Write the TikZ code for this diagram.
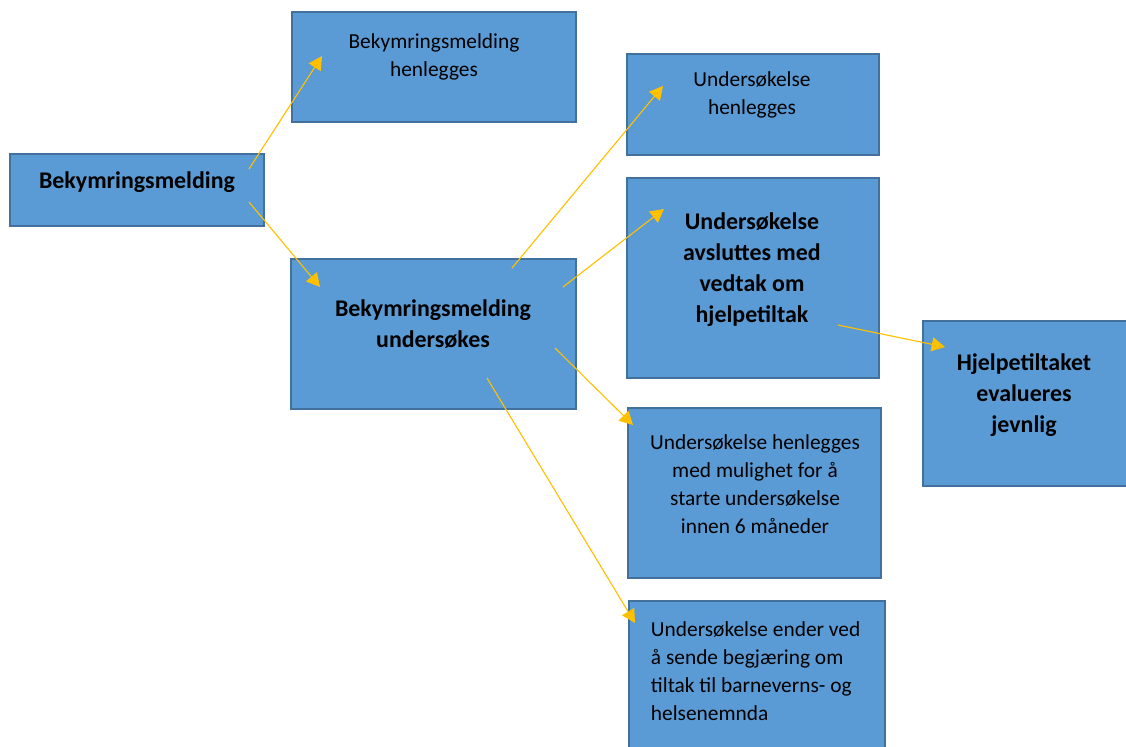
\documentclass[tikz,border=0pt]{standalone}
\usepackage{fontspec}
\setmainfont{Carlito}
\usetikzlibrary{arrows.meta}
\definecolor{boxblue}{HTML}{5B9BD5}
\definecolor{boxedge}{HTML}{41719C}
\definecolor{arrgold}{HTML}{FFC000}
\tikzset{>={Triangle[length=9.5pt, width=10pt]}}

\begin{document}
\begin{tikzpicture}[x=0.025cm, y=-0.025cm,
    box/.style={rectangle, draw=boxedge, fill=boxblue, line width=1.4pt, inner sep=0pt},
    txt/.style={align=center, font=\fontsize{15.2}{19.85}\selectfont},
    btxt/.style={align=center, font=\fontsize{17}{22}\selectfont\bfseries},
    arr/.style={draw=arrgold, line width=0.8pt, ->, arrgold}]
    \useasboundingbox (0,0) rectangle (1126,746);

    % boxes
    \node[box, minimum width=6.35cm, minimum height=1.8cm] (melding) at (137,190) {};
    \node[box, minimum width=7.1cm, minimum height=2.75cm] (henlegges) at (434,67) {};
    \node[box, minimum width=7.125cm, minimum height=3.75cm] (undersokes) at (433.5,334) {};
    \node[box, minimum width=6.3cm, minimum height=2.525cm] (ushenlegges) at (753,104.5) {};
    \node[box, minimum width=6.3cm, minimum height=5cm] (vedtak) at (753,278) {};
    \node[box, minimum width=5.425cm, minimum height=4.125cm] (evalueres) at (1031.5,403.5) {};
    \node[box, minimum width=6.325cm, minimum height=4.25cm] (mulighet) at (754.5,493) {};
    \node[box, minimum width=6.4cm, minimum height=4.225cm] (begjaering) at (757,685.5) {};

    % texts
    \node[btxt] (tmelding) at (137,182) {Bekymringsmelding};
    \node[txt] (thenlegges) at (434,57) {Bekymringsmelding\\henlegges};
    \node[btxt] (tundersokes) at (433,324) {Bekymringsmelding\\undersøkes};
    \node[txt] (tushenlegges) at (752,95) {Undersøkelse\\henlegges};
    \node[btxt] (tvedtak) at (752,270) {Undersøkelse\\avsluttes med\\vedtak om\\hjelpetiltak};
    \node[btxt] (tevalueres) at (1024,395) {Hjelpetiltaket\\evalueres\\jevnlig};
    \node[txt] (tmulighet) at (755,484) {Undersøkelse henlegges\\med mulighet for å\\starte undersøkelse\\innen 6 måneder};
    \node[txt, align=left, anchor=west] (tbegjaering) at (646,671) {Undersøkelse ender ved\\å sende begjæring om\\tiltak til barneverns- og\\helsenemnda};

    % arrow ends
    \coordinate (s1) at (249,169); \coordinate (e1) at (322,56);
    \coordinate (s2) at (249,202); \coordinate (e2) at (320,287);
    \coordinate (s3) at (512,268); \coordinate (e3) at (663,86);
    \coordinate (s4) at (563,287); \coordinate (e4) at (664,209);
    \coordinate (s5) at (838,325); \coordinate (e5) at (945,347);
    \coordinate (s6) at (555,348); \coordinate (e6) at (633,425);
    \coordinate (s7) at (487,378); \coordinate (e7) at (635,623);

    \draw[arr] (s1) -- (e1);
    \draw[arr] (s2) -- (e2);
    \draw[arr] (s3) -- (e3);
    \draw[arr] (s4) -- (e4);
    \draw[arr] (s5) -- (e5);
    \draw[arr] (s6) -- (e6);
    \draw[arr] (s7) -- (e7);
\end{tikzpicture}
\end{document}
